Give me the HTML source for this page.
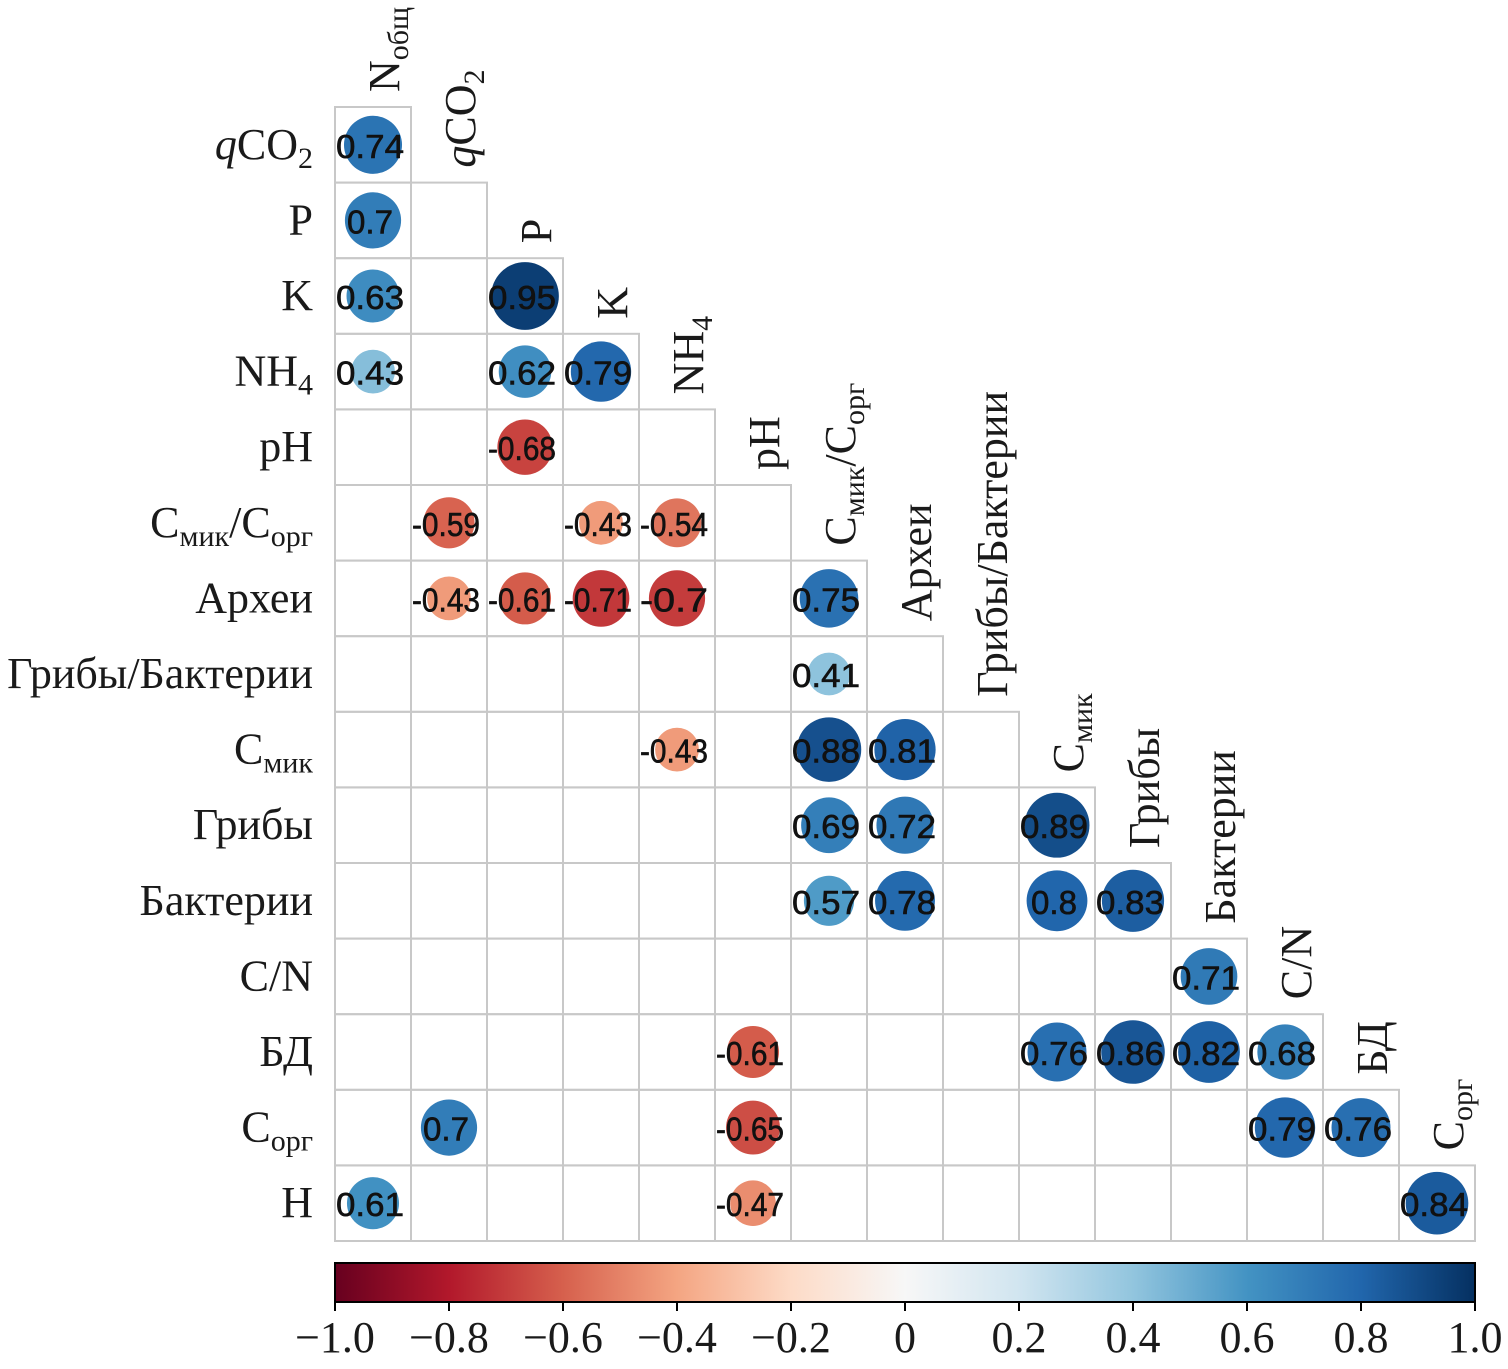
<!DOCTYPE html>
<html><head><meta charset="utf-8">
<style>
html,body{margin:0;padding:0;background:#fff;}
svg{display:block;}
.lab{font-family:"Liberation Serif",serif;font-size:44px;fill:#1a1a1a;}
.val{font-family:"Liberation Sans",sans-serif;font-size:33px;fill:#111;stroke:#111;stroke-width:0.6;}
</style></head>
<body>
<svg id="chart" width="1508" height="1369" xmlns="http://www.w3.org/2000/svg">
<defs>
<linearGradient id="rdbu" x1="0" x2="1" y1="0" y2="0">
<stop offset="0" stop-color="#67001f"/><stop offset="0.1" stop-color="#b2182b"/>
<stop offset="0.2" stop-color="#d6604d"/><stop offset="0.3" stop-color="#f4a582"/>
<stop offset="0.4" stop-color="#fddbc7"/><stop offset="0.5" stop-color="#f7f7f7"/>
<stop offset="0.6" stop-color="#d1e5f0"/><stop offset="0.7" stop-color="#92c5de"/>
<stop offset="0.8" stop-color="#4393c3"/><stop offset="0.9" stop-color="#2166ac"/>
<stop offset="1" stop-color="#053061"/>
</linearGradient>
</defs>
<g id="grid"></g>
<g id="marks"></g>
<g id="labels"></g>
<g id="cbar">
<rect x="335" y="1263" width="1140" height="39" fill="url(#rdbu)" stroke="#000" stroke-width="2"/>
</g>
</svg>
<script>
const labels = [["N","общ"],["qCO","2"],["P",""],["K",""],["NH","4"],["pH",""],["C","мик","/C","орг"],["Археи",""],["Грибы/Бактерии",""],["C","мик"],["Грибы",""],["Бактерии",""],["C/N",""],["БД",""],["C","орг"]];
const rowLabels = [["qCO","2"],["P",""],["K",""],["NH","4"],["pH",""],["C","мик","/C","орг"],["Археи",""],["Грибы/Бактерии",""],["C","мик"],["Грибы",""],["Бактерии",""],["C/N",""],["БД",""],["C","орг"],["H",""]];
const cellRows = [0,1,2,2,3,3,3,4,5,5,5,6,6,6,6,6,7,8,8,8,9,9,9,10,10,10,10,11,12,12,12,12,12,13,13,13,13,14,14,14];
const cellCols = [0,0,0,2,0,2,3,2,1,3,4,1,2,3,4,6,6,4,6,7,6,7,9,6,7,9,10,11,5,9,10,11,12,1,5,12,13,0,5,14];
const cellVals = [0.74,0.7,0.63,0.95,0.43,0.62,0.79,-0.68,-0.59,-0.43,-0.54,-0.43,-0.61,-0.71,-0.7,0.75,0.41,-0.43,0.88,0.81,0.69,0.72,0.89,0.57,0.78,0.8,0.83,0.71,-0.61,0.76,0.86,0.82,0.68,0.7,-0.65,0.79,0.76,0.61,-0.47,0.84];
const cbTicks = [-1,-0.8,-0.6,-0.4,-0.2,0,0.2,0.4,0.6,0.8,1];
const cbTickLabels = ["\u22121.0","\u22120.8","\u22120.6","\u22120.4","\u22120.2","0","0.2","0.4","0.6","0.8","1.0"];

const NS="http://www.w3.org/2000/svg";
const X0=335, Y0=107, CW=76, CH=75.6;
const xc=c=>X0+CW*(c+0.5), yc=r=>Y0+CH*(r+0.5);
const cbX=v=>335+(v+1)/2*1140;
const stops=[[103,0,31],[178,24,43],[214,96,77],[244,165,130],[253,219,199],[247,247,247],[209,229,240],[146,197,222],[67,147,195],[33,102,172],[5,48,97]];
function color(v){const t=(v+1)/2*10;const i=Math.min(9,Math.floor(t));const f=t-i;const a=stops[i],b=stops[i+1];
return `rgb(${a.map((x,k)=>Math.round(x+(b[k]-x)*f)).join(',')})`;}
function mk(tag,attrs,parent){const e=document.createElementNS(NS,tag);for(const k in attrs)e.setAttribute(k,attrs[k]);parent.appendChild(e);return e;}
function addLabel(t,parts){parts.forEach((p,i)=>{if(!p)return;const s=document.createElementNS(NS,'tspan');
if(i%2===1){s.setAttribute('font-size','30');s.setAttribute('dy','9');}else if(i>0){s.setAttribute('dy','-9');}
if(p==='qCO'){const q=document.createElementNS(NS,'tspan');q.setAttribute('font-style','italic');q.textContent='q';t.appendChild(q);s.textContent='CO';}
else s.textContent=p;t.appendChild(s);});}
const grid=document.getElementById('grid'),marks=document.getElementById('marks'),lab=document.getElementById('labels'),cb=document.getElementById('cbar');
for(let r=0;r<15;r++){for(let c=0;c<=r;c++){
const e=mk('rect',{x:X0+CW*c,y:Y0+CH*r,width:CW,height:CH,fill:'none',stroke:'#c8c8c8','stroke-width':2},grid);

}}
cellVals.forEach((v,i)=>{const r=cellRows[i],c=cellCols[i];
const ci=mk('circle',{cx:xc(c),cy:yc(r),r:12+23*Math.abs(v),fill:color(v)},marks);


const t=mk('text',{x:xc(c)-3,y:yc(r)+13,'text-anchor':'middle',class:'val',textLength:String(v).length>3?68:46,lengthAdjust:'spacingAndGlyphs'},marks);
t.textContent=String(v);

});
rowLabels.forEach((p,r)=>{const t=mk('text',{x:313,y:yc(r)+14,'text-anchor':'end',class:'lab'},lab);addLabel(t,p);

});
labels.forEach((p,c)=>{const x=xc(c)+26,y=Y0+CH*c-15;const t=mk('text',{x:0,y:0,transform:`translate(${x},${y}) rotate(-90)`,'text-anchor':'start',class:'lab'},lab);addLabel(t,p);

});
cbTicks.forEach((v,i)=>{const l=mk('line',{x1:cbX(v),x2:cbX(v),y1:1302,y2:1311,stroke:'#000','stroke-width':2},cb);


const t=mk('text',{x:cbX(v),y:1352,'text-anchor':'middle',class:'lab','font-size':'40'},cb);t.textContent=cbTickLabels[i];

});
</script>
</body></html>
